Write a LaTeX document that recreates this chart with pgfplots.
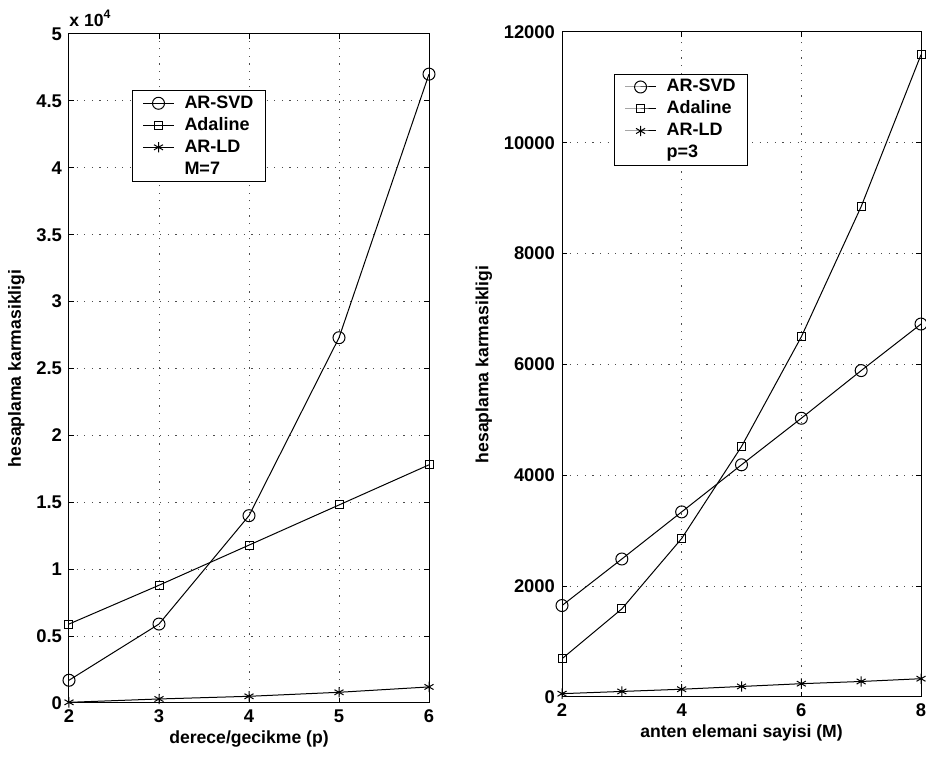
\documentclass[border=0pt]{standalone}
\usepackage{fontspec}
\setmainfont{Liberation Sans}
\usepackage{pgfplots}
\pgfplotsset{compat=1.18}
\pgfplotstableread{
x svd ada ld
2 0.17 0.59 0.005
3 0.59 0.88 0.03
4 1.40 1.18 0.05
5 2.73 1.48 0.08
6 4.70 1.78 0.12
}\leftdata
\pgfplotstableread{
x svd ada ld
2 1650 690 60
3 2490 1590 100
4 3340 2860 140
5 4190 4520 190
6 5030 6500 240
7 5890 8850 280
8 6730 11590 330
}\rightdata
\pgfplotsset{
  common/.style={
    scale only axis,
    anchor=south west,
    tick align=inside,
    major tick length=2.5pt,
    xtick pos=both, ytick pos=both,
    grid=major,
    grid style={black!70, line width=0.5pt, dash pattern=on 0.6pt off 3.2pt},
    axis line style={line width=0.5pt},
    every tick/.style={black, line width=0.5pt},
    /pgf/number format/assume math mode=true,
    /pgf/number format/1000 sep={},
    scaled ticks=false,
    tick label style={font=\fontsize{9.2}{11}\selectfont\bfseries},
    label style={font=\fontsize{8.8}{10}\selectfont\bfseries},
    legend style={font=\fontsize{9}{10}\selectfont\bfseries, draw=black, line width=0.5pt, inner xsep=5pt, inner ysep=0.8pt, row sep=0pt, column sep=4pt, anchor=north west, cells={anchor=west},
      nodes={inner xsep=1pt, inner ysep=1.2pt, text height=6.8pt, text depth=1.8pt}},
    legend cell align=left,
    legend image code/.code={\draw[mark repeat=2,mark phase=2,#1] plot coordinates {(0pt,0pt) (7.75pt,0pt) (15.5pt,0pt)};},
    every axis plot/.append style={black, line width=0.5pt, mark options={solid, line width=0.5pt}},
  },
  svd/.style={mark=o, mark size=3pt},
  ada/.style={mark=square, mark size=2pt},
  ld/.style={mark=asterisk, mark size=2.6pt},
}
\begin{document}
\begin{tikzpicture}
\path[use as bounding box] (0,0) rectangle (463pt,379pt);
\begin{axis}[common, name=left,
  at={(34.5pt,27.5pt)}, width=180pt, height=334.5pt,
  xmin=2, xmax=6, ymin=0, ymax=5,
  xtick={2,3,4,5,6}, ytick={0,0.5,...,5},
  yticklabels={0,0.5,1,1.5,2,2.5,3,3.5,4,4.5,5},
  xlabel={derece/gecikme (p)},
  ylabel={hesaplama karmasikligi},
  ylabel style={yshift=-1pt},
  xlabel style={yshift=3pt},
  legend style={at={(0.175,0.916)}},
]
\addplot[svd] table[x=x,y=svd]{\leftdata};
\addlegendentry{AR-SVD}
\addplot[ada] table[x=x,y=ada]{\leftdata};
\addlegendentry{Adaline}
\addplot[ld] table[x=x,y=ld]{\leftdata};
\addlegendentry{AR-LD}
\addlegendimage{empty legend}
\addlegendentry{M=7}
\end{axis}
\node[anchor=south west, inner sep=0pt, font=\fontsize{8.8}{10}\selectfont\bfseries] at ([yshift=3.5pt]left.north west) {x 10\textsuperscript{4}};
\begin{axis}[common,
  at={(281pt,30.5pt)}, width=179.5pt, height=332.5pt,
  xmin=2, xmax=8, ymin=0, ymax=12000,
  xtick={2,4,6,8}, ytick={0,2000,...,12000},
  xlabel={anten elemani sayisi (M)},
  ylabel={hesaplama karmasikligi},
  ylabel style={yshift=-1pt},
  xlabel style={yshift=3pt},
  legend style={at={(0.145,0.937)}},
]
\addplot[svd] table[x=x,y=svd]{\rightdata};
\addlegendentry{AR-SVD}
\addplot[ada] table[x=x,y=ada]{\rightdata};
\addlegendentry{Adaline}
\addplot[ld] table[x=x,y=ld]{\rightdata};
\addlegendentry{AR-LD}
\addlegendimage{empty legend}
\addlegendentry{p=3}
\end{axis}
\end{tikzpicture}
\end{document}
